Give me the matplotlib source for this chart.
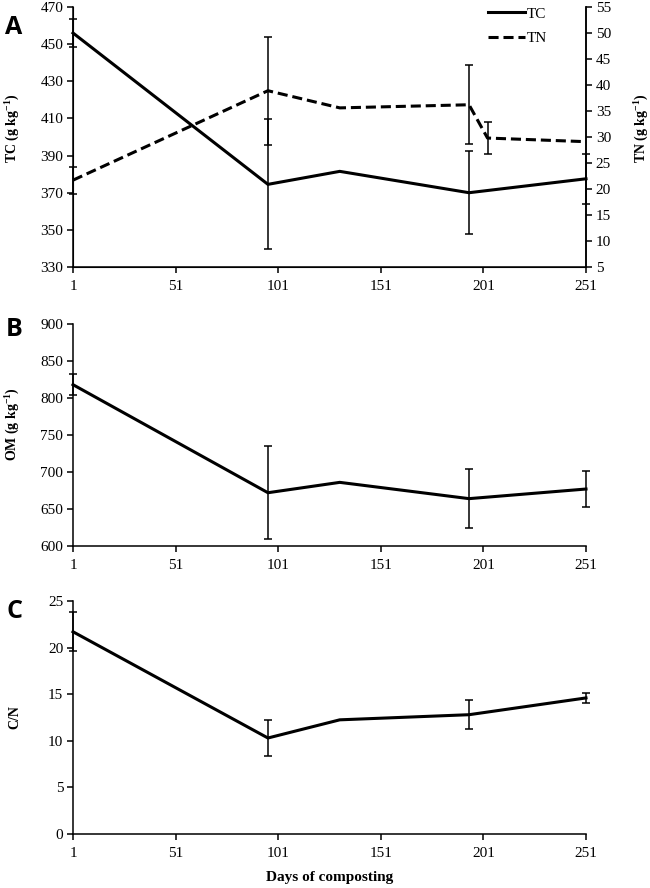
import numpy as np
import matplotlib
matplotlib.use("Agg")
import matplotlib.pyplot as plt

plt.rcParams['font.family'] = ['Liberation Serif', 'DejaVu Serif']
plt.rcParams['mathtext.fontset'] = 'custom'
plt.rcParams['mathtext.rm'] = 'Liberation Serif'
plt.rcParams['mathtext.bf'] = 'Liberation Serif:bold'

# days of sampling
days_tc = [1, 96, 131, 194, 251]
days_tn = [1, 96, 131, 194, 203, 251]
days = [1, 96, 131, 194, 251]

# panel A
tc = [456, 374.5, 381.5, 370, 377.5]
tc_err = [7.8, 35, 0, 22.4, 13.6]
tn = [21.7, 38.9, 35.6, 36.2, 29.8, 29.1]
tn_err = [2.6, 10.4, 0, 7.6, 3.1, 0]

# panel B
om = [818, 672, 686, 664, 677]
om_err = [14, 62.5, 0, 40, 24]

# panel C
cn = [21.7, 10.3, 12.25, 12.8, 14.6]
cn_err = [2.1, 1.9, 0, 1.55, 0.57]

xticks = [1, 51, 101, 151, 201, 251]

LW = 2.2
ELW = 1.1
CAP = 2.9
TICK_FS = 11
LAB_FS = 10


def px_axes(fig, left, top, right, bottom, W=650, H=888):
    return fig.add_axes([left / W, 1 - bottom / H, (right - left) / W, (bottom - top) / H])


def style(ax, right=False):
    for s in ['top'] + ([] if right else ['right']):
        ax.spines[s].set_visible(False)
    for s in ax.spines.values():
        s.set_linewidth(1.1)
    ax.tick_params(direction='out', length=4, width=1.1, labelsize=TICK_FS, pad=3)
    ax.tick_params(axis='x', pad=5)
    ax.set_xlim(1, 251)
    ax.set_xticks(xticks)


def draw(ax, x, y, err, **kw):
    line, = ax.plot(x, y, color='black', lw=LW, solid_joinstyle='miter', clip_on=False, **kw)
    e = np.array(err)
    m = e > 0
    ax.errorbar(np.array(x)[m], np.array(y)[m], yerr=e[m], fmt='none', ecolor='black',
                elinewidth=ELW, capsize=CAP, capthick=ELW, clip_on=False)
    return line


fig = plt.figure(figsize=(6.5, 8.88), dpi=100)

# ---- A ----
axA = px_axes(fig, 73, 7, 586, 267)
style(axA, right=True)
l1 = draw(axA, days_tc, tc, tc_err, label='TC')
axA.set_ylim(330, 470)
axA.set_yticks(np.arange(330, 471, 20))
axA.set_ylabel('TC (g kg$^{\\mathbf{-1}}$)', fontsize=LAB_FS, fontweight='bold')
axA.yaxis.set_label_coords(-0.101, 0.535)

axN = axA.twinx()
axN.spines['top'].set_visible(False)
axN.spines['right'].set_linewidth(1.1)
axN.tick_params(direction='out', length=4, width=1.1, labelsize=TICK_FS, pad=3)
l2 = draw(axN, days_tn, tn, tn_err, label='TN', dashes=(3.3, 1.6))
axN.set_ylim(5, 55)
axN.set_yticks(np.arange(5, 56, 5))
axN.set_ylabel('TN (g kg$^{\\mathbf{-1}}$)', fontsize=LAB_FS, fontweight='bold')
axN.yaxis.set_label_coords(1.087, 0.535)

axA.legend([l1, l2], ['TC', 'TN'], loc='upper left', bbox_to_anchor=(0.795, 1.03),
           frameon=False, fontsize=TICK_FS, handlelength=2.4, handletextpad=0.1,
           labelspacing=0.7, borderpad=0)

# ---- B ----
axB = px_axes(fig, 73, 324, 586, 546)
style(axB)
draw(axB, days, om, om_err)
axB.set_ylim(600, 900)
axB.set_yticks(np.arange(600, 901, 50))
axB.set_ylabel('OM (g kg$^{\\mathbf{-1}}$)', fontsize=LAB_FS, fontweight='bold')
axB.yaxis.set_label_coords(-0.101, 0.55)

# ---- C ----
axC = px_axes(fig, 73, 601, 586, 834)
style(axC)
draw(axC, days, cn, cn_err)
axC.set_ylim(0, 25)
axC.set_yticks(np.arange(0, 26, 5))
axC.set_ylabel('C/N', fontsize=LAB_FS, fontweight='bold')
axC.yaxis.set_label_coords(-0.101, 0.5)
axC.set_xlabel('Days of composting', fontsize=11, fontweight='bold')
axC.xaxis.set_label_coords(0.5, -0.16)

# panel letters
for lab, y in [('A', 27), ('B', 330), ('C', 612)]:
    fig.text(14 / 650, 1 - y / 888, lab, family='Open Sans', fontweight='bold',
             fontsize=18, va='center', ha='center')

fig.savefig('out.png', dpi=100)
